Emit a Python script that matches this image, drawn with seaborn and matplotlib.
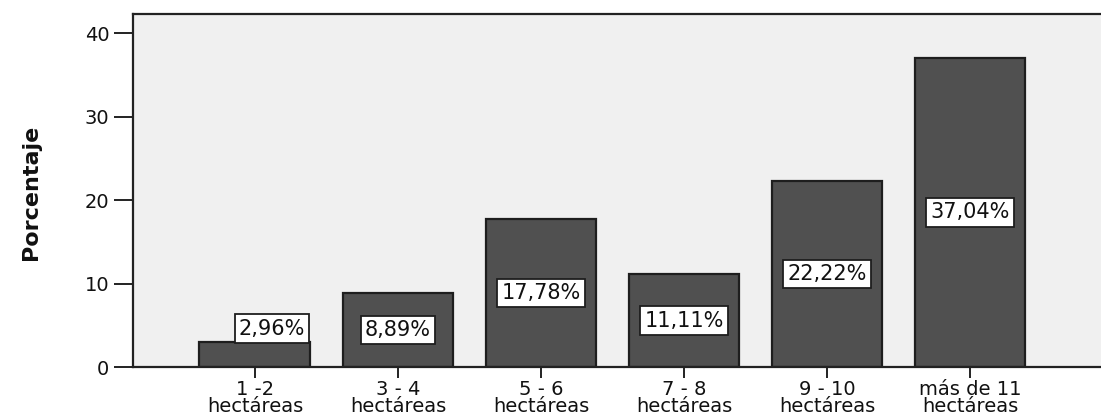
import matplotlib
matplotlib.use("Agg")
import matplotlib.pyplot as plt
import pandas as pd
import seaborn as sns

# Superficie cultivada por rango de hectáreas
rangos = ["1 -2\nhectáreas", "3 - 4\nhectáreas", "5 - 6\nhectáreas",
          "7 - 8\nhectáreas", "9 - 10\nhectáreas", "más de 11\nhectáreas"]
porcentajes = [2.96, 8.89, 17.78, 11.11, 22.22, 37.04]
etiquetas = ["2,96%", "8,89%", "17,78%", "11,11%", "22,22%", "37,04%"]
marcas_y = [0, 10, 20, 30, 40]

sns.set_theme(style="white")
plt.rcParams["font.family"] = ["DejaVu Sans"]

fig = plt.figure(figsize=(11.01, 4.17), dpi=100)
fig.patch.set_facecolor("white")
ax = fig.add_axes([0.1208, 0.1199, 0.8792, 0.8465])
ax.set_facecolor("#f0f0f0")

df = pd.DataFrame({"rango": rangos, "porcentaje": porcentajes})
sns.barplot(data=df, x="rango", y="porcentaje", color="#505050", saturation=1,
            edgecolor="#1e1e1e", linewidth=1.6, width=0.776, ax=ax, zorder=2)

ax.set_xlim(-0.853, 5.916)
ax.set_ylim(0, 42.28)
ax.set_yticks(marcas_y)
ax.set_yticklabels([str(v) for v in marcas_y])

# Etiquetas de porcentaje en recuadros blancos
caja = dict(boxstyle="square,pad=0.2", facecolor="white", edgecolor="#1e1e1e", linewidth=1.3)
for barra, texto in zip(ax.patches, etiquetas):
    h = barra.get_height()
    xc = barra.get_x() + barra.get_width() / 2
    if h < 4:
        ax.text(xc + 0.12, h + 0.45, texto, ha="center", va="bottom", fontsize=15,
                color="#111111", bbox=caja, zorder=3)
    else:
        ax.text(xc, h / 2, texto, ha="center", va="center", fontsize=15,
                color="#111111", bbox=caja, zorder=3)

for lado in ["left", "top", "bottom"]:
    ax.spines[lado].set_visible(True)
    ax.spines[lado].set_color("#222222")
    ax.spines[lado].set_linewidth(1.6)
ax.spines["right"].set_visible(False)

ax.tick_params(axis="y", direction="out", length=14, width=1.4, color="#222222",
               labelsize=14, labelcolor="#111111", pad=3, left=True)
ax.tick_params(axis="x", direction="out", length=8, width=1.4, color="#222222",
               labelsize=14, labelcolor="#111111", pad=1, bottom=True)
for lbl in ax.get_xticklabels():
    lbl.set_linespacing(0.92)

ax.set_xlabel("")
ax.set_ylabel("Porcentaje", fontsize=16, fontweight="bold",
              family=["Liberation Sans Narrow", "DejaVu Sans"], color="#111111")
ax.yaxis.set_label_coords(-0.095, 0.496)

fig.savefig("out.png", dpi=100, facecolor="white")
